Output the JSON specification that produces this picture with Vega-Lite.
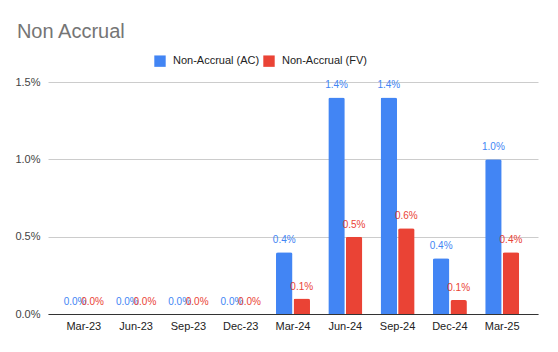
{
  "$schema": "https://vega.github.io/schema/vega-lite/v6.json",
  "width": 490,
  "height": 232,
  "padding": {"left": 14, "top": 22, "right": 20, "bottom": 10},
  "background": "white",
  "config": {
    "font": "Liberation Sans",
    "view": {"stroke": null},
    "axis": {"labelFont": "Liberation Sans", "titleFont": "Liberation Sans"},
    "legend": {"labelFont": "Liberation Sans"}
  },
  "title": {
    "text": "Non Accrual",
    "anchor": "start",
    "frame": "bounds",
    "fontSize": 20,
    "fontWeight": "normal",
    "color": "#757575",
    "offset": 13,
    "dx": 2
  },
  "data": {
    "values": [
      {"quarter": "Mar-23", "series": "Non-Accrual (AC)", "value": 0},
      {"quarter": "Mar-23", "series": "Non-Accrual (FV)", "value": 0},
      {"quarter": "Jun-23", "series": "Non-Accrual (AC)", "value": 0},
      {"quarter": "Jun-23", "series": "Non-Accrual (FV)", "value": 0},
      {"quarter": "Sep-23", "series": "Non-Accrual (AC)", "value": 0},
      {"quarter": "Sep-23", "series": "Non-Accrual (FV)", "value": 0},
      {"quarter": "Dec-23", "series": "Non-Accrual (AC)", "value": 0},
      {"quarter": "Dec-23", "series": "Non-Accrual (FV)", "value": 0},
      {"quarter": "Mar-24", "series": "Non-Accrual (AC)", "value": 0.004},
      {"quarter": "Mar-24", "series": "Non-Accrual (FV)", "value": 0.001},
      {"quarter": "Jun-24", "series": "Non-Accrual (AC)", "value": 0.014},
      {"quarter": "Jun-24", "series": "Non-Accrual (FV)", "value": 0.005},
      {"quarter": "Sep-24", "series": "Non-Accrual (AC)", "value": 0.014},
      {"quarter": "Sep-24", "series": "Non-Accrual (FV)", "value": 0.00555},
      {"quarter": "Dec-24", "series": "Non-Accrual (AC)", "value": 0.0036},
      {"quarter": "Dec-24", "series": "Non-Accrual (FV)", "value": 0.0009},
      {"quarter": "Mar-25", "series": "Non-Accrual (AC)", "value": 0.01},
      {"quarter": "Mar-25", "series": "Non-Accrual (FV)", "value": 0.004}
    ]
  },
  "encoding": {
    "x": {
      "field": "quarter",
      "type": "nominal",
      "sort": null,
      "scale": {"paddingInner": 0.35, "paddingOuter": 0.36},
      "axis": {
        "title": null,
        "labelAngle": 0,
        "labelFontSize": 11,
        "labelColor": "#222222",
        "labelPadding": 6,
        "ticks": false,
        "domainColor": "#333333",
        "domainWidth": 1
      }
    },
    "xOffset": {
      "field": "series",
      "type": "nominal",
      "scale": {"paddingInner": 0.06}
    },
    "y": {
      "field": "value",
      "type": "quantitative",
      "scale": {"domain": [0, 0.015]},
      "axis": {
        "title": null,
        "format": ".1%",
        "values": [0, 0.005, 0.01, 0.015],
        "labelFontSize": 11,
        "labelColor": "#444444",
        "labelPadding": 8,
        "ticks": false,
        "domain": false,
        "gridColor": "#cccccc"
      }
    }
  },
  "layer": [
    {
      "mark": {"type": "bar", "cornerRadiusTopLeft": 2, "cornerRadiusTopRight": 2},
      "encoding": {
        "color": {
          "field": "series",
          "type": "nominal",
          "scale": {"domain": ["Non-Accrual (AC)", "Non-Accrual (FV)"], "range": ["#4285F4", "#EA4335"]},
          "legend": {
            "title": null,
            "orient": "none",
            "legendX": 106,
            "legendY": -27,
            "direction": "horizontal",
            "symbolType": "square",
            "symbolSize": 130,
            "symbolStrokeWidth": 0,
            "labelFontSize": 11,
            "labelColor": "#222222",
            "columnPadding": 3,
            "labelOffset": 7
          }
        }
      }
    },
    {
      "mark": {"type": "text", "baseline": "bottom", "dy": -7, "fontSize": 10},
      "encoding": {
        "text": {"field": "value", "type": "quantitative", "format": ".1%"},
        "color": {"field": "series", "type": "nominal", "legend": null}
      }
    }
  ]
}
